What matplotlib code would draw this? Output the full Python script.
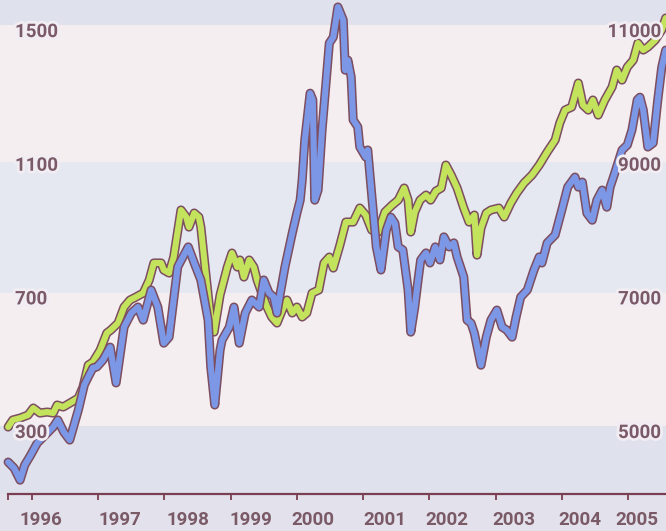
import matplotlib
matplotlib.use("Agg")
import matplotlib.pyplot as plt
import matplotlib.patheffects as pe

# ---- data (decimal years, index values) ----
blue_t = [1995.64, 1995.73, 1995.82, 1995.89, 1995.98, 1996.08, 1996.20, 1996.32, 1996.39, 1996.48,
          1996.57, 1996.70, 1996.79, 1996.85, 1996.92, 1996.98, 1997.07, 1997.18, 1997.27, 1997.39,
          1997.50, 1997.60, 1997.68, 1997.80, 1997.90, 1997.99, 1998.07, 1998.20, 1998.36, 1998.45,
          1998.55, 1998.66, 1998.70, 1998.76, 1998.84, 1998.87, 1998.98, 1999.05, 1999.13, 1999.22,
          1999.32, 1999.43, 1999.50, 1999.58, 1999.65, 1999.70, 1999.75, 1999.82, 1999.93, 2000.00,
          2000.05, 2000.08, 2000.12, 2000.20, 2000.24, 2000.27, 2000.32, 2000.38, 2000.49, 2000.55,
          2000.62, 2000.70, 2000.73, 2000.77, 2000.82, 2000.85, 2000.92, 2000.95, 2001.04, 2001.07,
          2001.12, 2001.20, 2001.27, 2001.35, 2001.42, 2001.48, 2001.53, 2001.60, 2001.68, 2001.72,
          2001.78, 2001.83, 2001.87, 2001.95, 2002.01, 2002.09, 2002.16, 2002.22, 2002.30, 2002.37,
          2002.42, 2002.52, 2002.57, 2002.63, 2002.68, 2002.78, 2002.86, 2002.93, 2003.02, 2003.10,
          2003.17, 2003.25, 2003.31, 2003.38, 2003.48, 2003.58, 2003.66, 2003.70, 2003.78, 2003.90,
          2004.00, 2004.09, 2004.20, 2004.25, 2004.31, 2004.38, 2004.46, 2004.53, 2004.61, 2004.68,
          2004.73, 2004.80, 2004.91, 2004.99, 2005.06, 2005.14, 2005.18, 2005.23, 2005.30, 2005.38,
          2005.45, 2005.51, 2005.57]
blue_v = [213, 195, 159, 204, 234, 270, 294, 318, 339, 303,
          279, 369, 444, 468, 495, 498, 518, 557, 450, 617,
          659, 677, 638, 728, 677, 569, 587, 797, 857, 809,
          758, 638, 498, 384, 548, 578, 617, 677, 569, 659,
          698, 677, 758, 719, 707, 659, 719, 797, 898, 958,
          997, 1057, 1177, 1317, 1297, 997, 1027, 1207, 1467, 1485,
          1575, 1536, 1386, 1416, 1365, 1237, 1216, 1156, 1126, 1147,
          1036, 857, 788, 907, 946, 928, 857, 848, 728, 602,
          677, 758, 818, 839, 809, 857, 818, 887, 857, 869,
          827, 767, 638, 629, 599, 503, 587, 638, 668, 617,
          608, 587, 647, 707, 728, 788, 827, 809, 869, 893,
          967, 1036, 1066, 1036, 1051, 958, 937, 997, 1027, 976,
          1036, 1078, 1147, 1162, 1207, 1297, 1305, 1267, 1156, 1168,
          1297, 1395, 1446]

green_t = [1995.64, 1995.71, 1995.82, 1995.94, 1996.02, 1996.12, 1996.23, 1996.32, 1996.38, 1996.47,
           1996.60, 1996.70, 1996.77, 1996.85, 1996.92, 1997.03, 1997.13, 1997.19, 1997.30, 1997.39,
           1997.48, 1997.57, 1997.68, 1997.77, 1997.84, 1997.95, 1997.99, 1998.07, 1998.14, 1998.25,
           1998.33, 1998.37, 1998.45, 1998.52, 1998.55, 1998.63, 1998.70, 1998.75, 1998.84, 1998.95,
           1999.02, 1999.10, 1999.14, 1999.20, 1999.28, 1999.35, 1999.40, 1999.47, 1999.55, 1999.62,
           1999.70, 1999.78, 1999.85, 1999.93, 2000.00, 2000.08, 2000.15, 2000.23, 2000.33, 2000.41,
           2000.49, 2000.55, 2000.65, 2000.74, 2000.85, 2000.95, 2001.04, 2001.13, 2001.23, 2001.33,
           2001.44, 2001.53, 2001.62, 2001.68, 2001.72, 2001.78, 2001.86, 2001.95, 2002.02, 2002.10,
           2002.18, 2002.25, 2002.33, 2002.42, 2002.52, 2002.60, 2002.68, 2002.72, 2002.78, 2002.86,
           2002.93, 2003.05, 2003.13, 2003.23, 2003.32, 2003.43, 2003.55, 2003.66, 2003.78, 2003.90,
           2003.97, 2004.05, 2004.15, 2004.25, 2004.32, 2004.40, 2004.47, 2004.55, 2004.65, 2004.76,
           2004.83, 2004.91, 2004.99, 2005.08, 2005.15, 2005.23, 2005.30, 2005.41, 2005.51, 2005.57]
green_v = [5090, 5195, 5224, 5269, 5374, 5299, 5314, 5299, 5419, 5389,
           5464, 5524, 5688, 6017, 6062, 6242, 6496, 6541, 6646, 6885,
           6990, 7035, 7095, 7289, 7544, 7544, 7439, 7394, 7633, 8337,
           8232, 8082, 8292, 8232, 8082, 7334, 6691, 6511, 7065, 7484,
           7693, 7484, 7589, 7334, 7589, 7484, 7289, 7095, 6885, 6736,
           6646, 6840, 6990, 6796, 6885, 6736, 6796, 7095, 7140, 7544,
           7633, 7469, 7813, 8157, 8157, 8367, 8262, 8037, 8008, 8307,
           8412, 8486, 8666, 8486, 8008, 8307, 8486, 8561, 8486, 8621,
           8666, 9010, 8860, 8666, 8367, 8157, 8262, 7663, 8067, 8292,
           8337, 8367, 8232, 8441, 8591, 8741, 8860, 9010, 9205, 9384,
           9639, 9833, 9878, 10237, 9908, 9833, 9983, 9758, 9983, 10177,
           10432, 10282, 10476, 10581, 10836, 10731, 10776, 10880, 11030, 11210]

years = [1996, 1997, 1998, 1999, 2000, 2001, 2002, 2003, 2004, 2005]
year_labels = [str(y) for y in years]
year_label_pos = [1996.14, 1997.33, 1998.35, 1999.30, 2000.24, 2001.33, 2002.27, 2003.27, 2004.27, 2005.14]
left_ticks = [300, 700, 1100, 1500]
right_ticks = [5000, 7000, 9000, 11000]

# ---- styling ----
TEXT_C = '#7a5a66'
AXIS_C = '#7a3f52'
OUTLINE = '#7d4e60'
BLUE = '#7b97e6'
GREEN = '#c3e35c'
BG_BLUE = '#dfe1ec'
BG_MID = '#e6e8f1'
BG_PINK = '#f4eef1'
FONT = ['Roboto', 'DejaVu Sans']

fig = plt.figure(figsize=(6.66, 5.31), dpi=100)
fig.patch.set_facecolor('#e3e2ec')

xmin, xmax = 1995.517, 2005.574
ymin, ymax = 117.5, 1596.0

axg = fig.add_axes([0, 37 / 531, 1, 494 / 531])   # right-scale axis (green), drawn first
axb = fig.add_axes([0, 37 / 531, 1, 494 / 531], sharex=axg)  # left-scale axis (blue), on top
axg.set_zorder(1)
axb.set_zorder(2)
axb.patch.set_visible(False)

axg.set_xlim(xmin, xmax)
axb.set_ylim(ymin, ymax)
axg.set_ylim(5000 + (ymin - 300) * 5, 5000 + (ymax - 300) * 5)

# background bands (in right-axis units)
axg.set_facecolor(BG_BLUE)
axg.axhspan(5100, 7100, color=BG_PINK, zorder=0, lw=0)
axg.axhspan(7100, 9050, color=BG_MID, zorder=0, lw=0)
axg.axhspan(9050, 11100, color=BG_PINK, zorder=0, lw=0)

# lines
axg.plot(green_t, green_v, color=GREEN, lw=4.4, solid_joinstyle='round', solid_capstyle='round',
         path_effects=[pe.Stroke(linewidth=6.6, foreground=OUTLINE), pe.Normal()], zorder=2)
axb.plot(blue_t, blue_v, color=BLUE, lw=4.4, solid_joinstyle='round', solid_capstyle='round',
         path_effects=[pe.Stroke(linewidth=6.6, foreground=OUTLINE), pe.Normal()], zorder=2)

for a in (axg, axb):
    for s in a.spines.values():
        s.set_visible(False)
    a.set_yticks([])
axg.tick_params(axis='x', which='both', length=0, labelbottom=False)

# bottom axis
axb.spines['bottom'].set_visible(True)
axb.spines['bottom'].set_color(AXIS_C)
axb.spines['bottom'].set_linewidth(1.6)
axb.spines['bottom'].set_bounds(1995.64, xmax)
axb.set_xticks([1995.64] + years)
axb.set_xticklabels([''] * (len(years) + 1))
axb.tick_params(axis='x', which='major', direction='out', length=4.5, width=1.3, color=AXIS_C)
axb.set_xticks(year_label_pos, minor=True)
axb.set_xticklabels(year_labels, minor=True)
axb.tick_params(axis='x', which='minor', length=0, pad=12, labelsize=13.5, labelcolor=TEXT_C)
for lbl in axb.get_xticklabels(minor=True):
    lbl.set_family(FONT)
    lbl.set_weight('bold')

halo = [pe.withStroke(linewidth=4, foreground='#f1edf2')]
for v in left_ticks:
    axb.text(15 / 666, v, str(v), transform=axb.get_yaxis_transform(), ha='left', va='center',
             fontsize=13.5, color=TEXT_C, family=FONT, weight='bold', path_effects=halo, zorder=5)
for v in right_ticks:
    axb.text(661 / 666, v, str(v), transform=axg.get_yaxis_transform(), ha='right', va='center',
             fontsize=13.5, color=TEXT_C, family=FONT, weight='bold', path_effects=halo, zorder=5)

fig.savefig('out.png', dpi=100, facecolor=fig.get_facecolor())
